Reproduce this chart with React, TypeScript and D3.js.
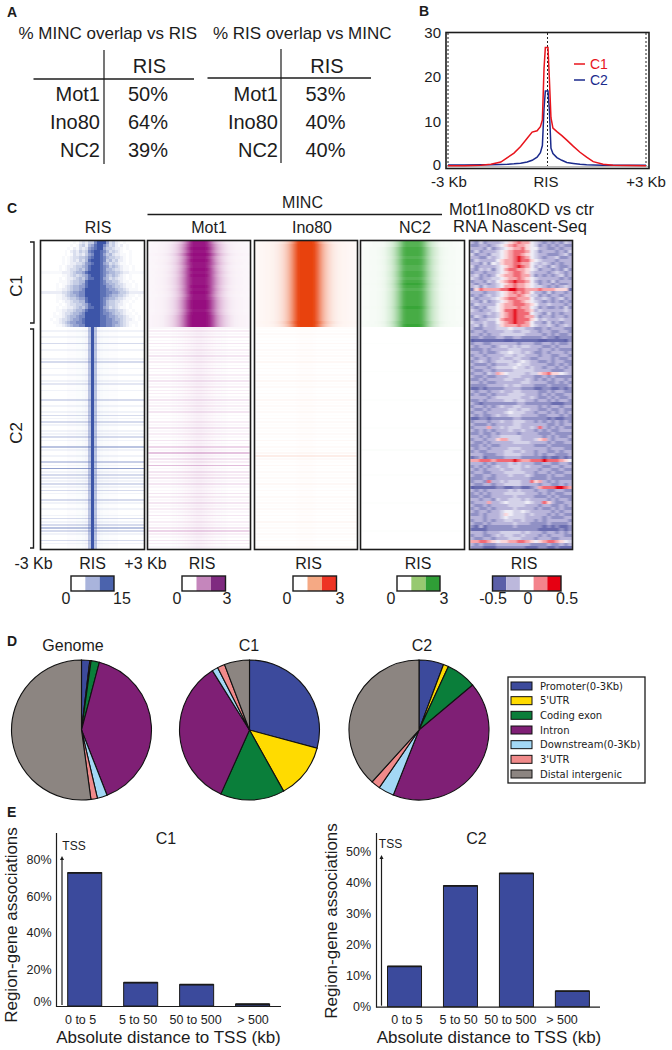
import React from 'react';
import * as d3 from 'd3';

const FONT = '"Liberation Sans", Arial, sans-serif';
const INK = '#1c1c1c';

// panel A
const overlapRows = ['Mot1', 'Ino80', 'NC2'];
const mincVsRis = ['50%', '64%', '39%'];
const risVsMinc = ['53%', '40%', '40%'];

// panel B
const profileKb = [-3, -2.5, -2, -1.7, -1.4, -1.2, -1, -0.8, -0.6, -0.45, -0.3, -0.2, -0.14, -0.09, -0.05, 0.03, 0.07, 0.12, 0.18, 0.3, 0.45, 0.6, 0.8, 1, 1.2, 1.4, 1.7, 2, 2.5, 3];
const profileC1 = [0.3, 0.3, 0.4, 0.6, 1.1, 2.1, 3.1, 4.6, 6.4, 7.8, 8.1, 9, 10.5, 22, 26.7, 26.7, 20, 11, 8.7, 7.9, 7, 6, 4.6, 3.3, 2.2, 1.2, 0.6, 0.4, 0.35, 0.3];
const profileC2 = [0.45, 0.45, 0.5, 0.5, 0.55, 0.6, 0.7, 0.85, 1.1, 1.5, 2.2, 3.2, 4.8, 13, 17, 17, 13, 4.2, 3, 2.1, 1.5, 1, 0.8, 0.6, 0.5, 0.45, 0.4, 0.4, 0.4, 0.4];
const profileTicks = [0, 10, 20, 30];

// panel C: RIS signal in C1, one digit per bin
const risC1 = [
  '00000000000102324479996342101000000', '00000000001013425689975342120100000', '00000000010213236789964432210100000',
  '00000000102324347899875343210010000', '00000000101323246799864532211010000', '00000001012334457899875443321010000',
  '00000001012324358999874534221010000', '00000001012233467899865343211010000', '00000010122344568999876454321101000',
  '00000010123345468999875543321101000', '11111112223455689999876554432211111', '00000001123434568999875454321010000',
  '00000010122345468899865343221010000', '00000011123445589999875544321101000', '00000101123445689999876554332110100',
  '00000101234556689999886654432110100', '00000112234556799999887665443211100', '22222223345667799999887766544322222',
  '00000112345567799999887655443211010', '00000112234456689999876554332110100', '00000101223445589999875443321101000',
  '00000010123344568999875443221010000', '00000101122345468899865343211010000', '00000112233455689999876554332101000',
  '00001012334556799999877654432110100', '00001112345567799999887665443211010', '00010123345667899999887765543221010',
  '00001123456677899999887766543211100', '00000112345667799999887765543210100',
];
// panel C: column profiles across the +/-3 Kb window, 35 bins
const risCoreC2 = [0, 0, 0, 0, 0, 0, 0, 0, 0, 0.01, 0.01, 0.01, 0.02, 0.02, 0.03, 0.05, 0.35, 1, 0.35, 0.05, 0.03, 0.02, 0.02, 0.01, 0.01, 0.01, 0, 0, 0, 0, 0, 0, 0, 0, 0];
const mincCoreC1 = [0.03, 0.03, 0.04, 0.04, 0.05, 0.05, 0.06, 0.07, 0.1, 0.14, 0.2, 0.3, 0.45, 0.65, 0.88, 1, 1, 1, 1, 1, 0.9, 0.7, 0.48, 0.32, 0.22, 0.15, 0.1, 0.07, 0.06, 0.05, 0.05, 0.04, 0.04, 0.03, 0.03];
const mincBump = [0, 0, 0, 0, 0, 0, 0, 0, 0.01, 0.01, 0.02, 0.02, 0.03, 0.04, 0.05, 0.06, 0.07, 0.07, 0.07, 0.06, 0.05, 0.04, 0.03, 0.02, 0.02, 0.01, 0.01, 0, 0, 0, 0, 0, 0, 0, 0];

// panel C: one digit per heatmap row, 0 = weak, 9 = strong
const risStreakC2 = '12121412112412121231211412124242122421621215292432424214212124246421421';
const mot1StrengthC1 = '88989898898988898988999899999';
const mot1SpreadC1 = '45556556556566656556666667777';
const mot1StreakC2 = '23232423242324232423332423242232423242628243924342422432423242324632432';
const ino80StrengthC1 = '99999999999999999999999999999';
const ino80SpreadC1 = '45555555555555555555555555565';
const ino80StreakC2 = '22322423232423232423232423232332323242324932423232423232323232423232323';
const nc2StrengthC1 = '66777677667767876777778777778';
const nc2SpreadC1 = '44555555555555555555555555565';
const nc2StreakC2 = '11111211111111211111111211111111211111131111111211111111211111111211111';

// panel C: KD vs control, 24 bins, 0 = most negative, 9 = most positive
const nascentC1 = [
  '324233345678775432323243', '223323456787765423232322', '333242345677865533223233', '242333456788875423332324',
  '423324456788765433222342', '332243456789875432334223', '243333567789886543332333', '332425467788775434323233',
  '423333456789875343243223', '324342457887765423323242', '233233456788764333234323', '342323567788774232323423',
  '432334456778765433333232', '233243567898875323242333', '323323456787765423323223', '342433457787765443232343',
  '168777788998877787776661', '333233456787875332423323', '232343456778764423233233', '423334567887775334323423',
  '332423456788765432323232', '243333567788876533433323', '323244567778775423223242', '432334568898876343333343',
  '333343467898885432423233', '243233467898877423323323', '323344578898886534333433', '433433567898875332423233',
  '342433467778775433432343',
];
const nascentC2 = [
  '322333444544433223233322', '233233334433443323322332', '332323344444433332323223', '223222332233222223221222',
  '011111110011111100111102', '233223333332333223323223', '323332344343443332232333', '222323333444333323323222',
  '332322344544343223233323', '233233334434433323322332', '323323343344332233323223', '234323444434543322323322',
  '322232333445443333223232', '233323444454434332332323', '322332333344444333322233', '233243765444434467866543',
  '322322333444333223232222', '223233334433343232323323', '332322333333443333223232', '222233334344333222322223',
  '112122223333222112211212', '323323343344333322323322', '232232333444433323232233', '333323444444334322323223',
  '223233334434433233232332', '321222222223322222211122', '233232343344333323233233', '322323333443443322322322',
  '233233334544433233232323', '323223433444333322333232', '112212222233222222121122', '233323343344433232323232',
  '322232333344333333223233', '233373343444334383232322', '323232333433433232322333', '223223233332333322232222',
  '332323344444333332323223', '233233677444333467323332', '322323333344443333232233', '223232233333333222322222',
  '323323333444333333233322', '232233334433433233223233', '333222334444333232332223', '123122223333222221211212',
  '778887888898778889888765', '333232333434333223322332', '232323433444343332233233', '323233343344333323322322',
  '233223334444433233232233', '322332333433343222323322', '222322333333332222322222', '233283343444338673232333',
  '322332334444333323322323', '011111221122112378889987', '323233333434333233223322', '232323334444433323232233',
  '223223333343333222323222', '332332433444343333232332', '233373345444454338632233', '322323333444433323322323',
  '232232333343333232232322', '323323345544543333323233', '223233346544434333232322', '333233345444433332322233',
  '233232334433433232333332', '322323333343332222322223', '213122222232222221212112', '111122222222222211111212',
  '333233344444343332332323', '233223434433433323233322', '322332333444333233322333', '778876566778876567887654',
  '323222333333332222322323', '222111222222211122112111',
];
const nascentDigitValues = [-0.5, -0.46, -0.36, -0.26, -0.16, -0.06, 0.08, 0.18, 0.3, 0.5];

const heatmapPanels = [
  { name: 'RIS', x0: 41, x1: 144, color: '#3c55a8', coreC1: null, coreC2: risCoreC2, strength: '', spread: '', streakC2: risStreakC2, streakMax: 0.07, bump: 1 },
  { name: 'Mot1', x0: 148, x1: 250, color: '#96107f', coreC1: mincCoreC1, coreC2: mincBump, strength: mot1StrengthC1, spread: mot1SpreadC1, streakC2: mot1StreakC2, streakMax: 0.035, bump: 0.8 },
  { name: 'Ino80', x0: 255, x1: 357, color: '#e8420c', coreC1: mincCoreC1, coreC2: mincBump, strength: ino80StrengthC1, spread: ino80SpreadC1, streakC2: ino80StreakC2, streakMax: 0.012, bump: 0.1 },
  { name: 'NC2', x0: 361, x1: 464, color: '#33a332', coreC1: mincCoreC1, coreC2: mincBump, strength: nc2StrengthC1, spread: nc2SpreadC1, streakC2: nc2StreakC2, streakMax: 0.01, bump: 0.02 },
];

const legendBars = [
  { center: 92.5, bx0: 71, bx1: 114, colors: ['#ffffff', '#a9b4dc', '#4b63ad'], labels: ['0', '15'], lx: [66, 122] },
  { center: 202, bx0: 182, bx1: 225.5, colors: ['#ffffff', '#c586bc', '#7f2a80'], labels: ['0', '3'], lx: [177, 227] },
  { center: 308.5, bx0: 293, bx1: 336.5, colors: ['#ffffff', '#f5a984', '#ee3424'], labels: ['0', '3'], lx: [287, 340] },
  { center: 418, bx0: 397, bx1: 440, colors: ['#ffffff', '#97c971', '#2f9e36'], labels: ['0', '3'], lx: [391, 444] },
  { center: 524, bx0: 492.5, bx1: 561, colors: ['#5b5fa8', '#bcb8dc', '#ffffff', '#f4838c', '#e60012'], labels: ['-0.5', '0', '0.5'], lx: [493, 528, 567] },
];

// panel D
const genomeClasses = ['Promoter(0-3Kb)', "5'UTR", 'Coding exon', 'Intron', 'Downstream(0-3Kb)', "3'UTR", 'Distal intergenic'];
const classColors = ['#3c4a9c', '#ffdb00', '#0a7e3a', '#7f1f75', '#a3d8f5', '#f08a8a', '#8c8581'];
const pieGenome = [1.9, 0.3, 1.9, 40, 2.3, 1.5, 52.2];
const pieC1 = [29.2, 12.7, 14.8, 34.4, 1.4, 1.7, 5.8];
const pieC2 = [5.7, 1.2, 7, 42.1, 3.6, 2.1, 38.3];

// panel E
const distanceBins = ['0 to 5', '5 to 50', '50 to 500', '> 500'];
const assocC1 = [73, 12.8, 11.7, 1];
const assocC2 = [13, 39, 43, 5];
const ticksC1 = [0, 20, 40, 60, 80];
const ticksC2 = [0, 10, 20, 30, 40, 50];

const digits = (s: string) => Array.from(s, Number);

function Label({ x, y, size = 16, anchor = 'middle', fill = INK, weight, children, rotate }: any) {
  return (
    <text
      x={rotate ? 0 : x}
      y={rotate ? 0 : y}
      transform={rotate ? `translate(${x},${y}) rotate(${rotate})` : undefined}
      fontFamily={FONT}
      fontSize={size}
      textAnchor={anchor}
      fontWeight={weight}
      fill={fill}
    >
      {children}
    </text>
  );
}

function OverlapTable({ title, titleX, vx, hy, hx0, hx1, values, risX, labelX, pctX, top, bottom }: any) {
  const rowY = d3.scalePoint<string>().domain(overlapRows).range([101, 157]);
  return (
    <g>
      <Label x={titleX} y={39} size={17} anchor="start">{title}</Label>
      <line x1={vx} x2={vx} y1={top} y2={bottom} stroke={INK} strokeWidth={1.2} />
      <line x1={hx0} x2={hx1} y1={hy} y2={hy} stroke={INK} strokeWidth={1.4} />
      <Label x={risX} y={73} size={20}>RIS</Label>
      {overlapRows.map((r, i) => (
        <g key={r}>
          <Label x={labelX} y={rowY(r)} size={20} anchor="end">{r}</Label>
          <Label x={pctX} y={rowY(r)} size={20}>{values[i]}</Label>
        </g>
      ))}
    </g>
  );
}

function ProfilePlot() {
  const x = d3.scaleLinear().domain([-3, 3]).range([448, 646]);
  const y = d3.scaleLinear().domain([0, 30]).range([167, 32.7]);
  const line = d3.line<number>().x((_, i) => x(profileKb[i])).y(d => y(d));
  return (
    <g>
      {[-3, 0, 3].map(k => (
        <line key={k} x1={x(k) + (k === 0 ? 0.5 : 0)} x2={x(k) + (k === 0 ? 0.5 : 0)} y1={33} y2={168} stroke="#222" strokeWidth={1} strokeDasharray="2 2" />
      ))}
      <line x1={446} x2={649} y1={166.5} y2={166.5} stroke="#bbb" strokeWidth={1} />
      <path d={line(profileC2) || ''} fill="none" stroke="#1b2a8c" strokeWidth={1.5} />
      <path d={line(profileC1) || ''} fill="none" stroke="#e8141c" strokeWidth={1.5} />
      <rect x={446} y={32.5} width={203} height={136} fill="none" stroke={INK} strokeWidth={1.6} />
      {profileTicks.map(t => (
        <Label key={t} x={441} y={y(t) + (t === 0 ? 3 : 5)} size={15} anchor="end">{t}</Label>
      ))}
      <Label x={449} y={187} size={15}>-3 Kb</Label>
      <Label x={546} y={187} size={15}>RIS</Label>
      <Label x={646} y={187} size={15}>+3 Kb</Label>
      <line x1={574} x2={585} y1={64} y2={64} stroke="#e8141c" strokeWidth={1.5} />
      <Label x={590} y={69} size={14} anchor="start" fill="#e8141c">C1</Label>
      <line x1={574} x2={585} y1={80} y2={80} stroke="#1b2a8c" strokeWidth={1.5} />
      <Label x={590} y={85} size={14} anchor="start" fill="#1b2a8c">C2</Label>
    </g>
  );
}

const TOP = 241;
const SPLIT = 327;
const BOTTOM = 549;

function Heatmap({ panel, idx }: any) {
  const cols = d3.range(35);
  const colX = d3.scaleBand<number>().domain(cols).range([panel.x0, panel.x1]);
  const color = d3.scaleLinear<string>().domain([0, 1]).range(['#ffffff', panel.color]).clamp(true);
  const streakC2 = digits(panel.streakC2);
  const rowCount = panel.coreC1 ? panel.strength.length : risC1.length;
  const rowsC1 = d3.scaleBand<number>().domain(d3.range(rowCount)).range([TOP, SPLIT]);
  const rowsC2 = d3.scaleBand<number>().domain(d3.range(streakC2.length)).range([SPLIT, BOTTOM]);
  const cellC1 = (r: number, c: number) => {
    if (!panel.coreC1) return Math.pow(Number(risC1[r][c]) / 9, 1.5);
    const s = Number(panel.strength[r]);
    const w = 0.72 + Number(panel.spread[r]) * 0.07;
    const k = Math.max(0, Math.min(34, 17 + (c - 17) / w));
    const lo = Math.floor(k);
    const hi = Math.min(34, lo + 1);
    return d3.interpolateNumber(panel.coreC1[lo], panel.coreC1[hi])(k - lo) * (0.45 + s * 0.065);
  };
  return (
    <g>
      <clipPath id={`clip-${idx}`}>
        <rect x={panel.x0} y={TOP} width={panel.x1 - panel.x0} height={BOTTOM - TOP} />
      </clipPath>
      <g clipPath={`url(#clip-${idx})`}>
        <g filter={panel.coreC1 ? 'url(#soft)' : 'url(#soft-fine)'} shapeRendering="crispEdges">
          {d3.range(rowCount).map(r =>
            cols.map(c => (
              <rect key={`a${r}-${c}`} x={colX(c)} y={rowsC1(r)} width={colX.bandwidth() + 0.5} height={rowsC1.bandwidth() + 0.5} fill={color(cellC1(r, c))} />
            ))
          )}
          {/* faint wash and the thin per-row streaks of C2 */}
          {streakC2.map((s, r) => (
            <rect key={`s${r}`} x={panel.x0} y={rowsC2(r)} width={panel.x1 - panel.x0} height={rowsC2.bandwidth() * 0.55} fill={color(Math.max(0, s - 1) * panel.streakMax)} />
          ))}
          {cols.map(c => panel.coreC2[c] * panel.bump > 0.004 && (
            <rect key={`b${c}`} x={colX(c)} y={SPLIT} width={colX.bandwidth()} height={BOTTOM - SPLIT} fill={panel.color} opacity={panel.coreC2[c] * panel.bump} />
          ))}
        </g>
      </g>
      <rect x={panel.x0 - 0.5} y={TOP - 0.5} width={panel.x1 - panel.x0 + 1} height={BOTTOM - TOP + 1} fill="none" stroke={INK} strokeWidth={1.6} />
    </g>
  );
}

function NascentMap() {
  const x0 = 470, x1 = 572;
  const cols = d3.range(24);
  const colX = d3.scaleBand<number>().domain(cols).range([x0, x1]);
  const color = d3.scaleLinear<string>().domain([-0.5, -0.25, 0, 0.25, 0.5]).range(['#5b5fa8', '#bcb8dc', '#ffffff', '#f4838c', '#e60012']);
  const rowsC1 = d3.scaleBand<number>().domain(d3.range(nascentC1.length)).range([TOP, SPLIT]);
  const rowsC2 = d3.scaleBand<number>().domain(d3.range(nascentC2.length)).range([SPLIT, BOTTOM]);
  const cells = (rows: string[], scale: any, tag: string) =>
    rows.map((row, r) =>
      digits(row).map((d, c) => (
        <rect key={`${tag}${r}-${c}`} x={colX(c)} y={scale(r)} width={colX.bandwidth() + 0.5} height={scale.bandwidth() + 0.5} fill={color(nascentDigitValues[d])} />
      ))
    );
  return (
    <g>
      <clipPath id="clip-nascent">
        <rect x={x0} y={TOP} width={x1 - x0} height={BOTTOM - TOP} />
      </clipPath>
      <g clipPath="url(#clip-nascent)">
        <g filter="url(#soft-nascent)" shapeRendering="crispEdges">
          {cells(nascentC1, rowsC1, 'a')}
          {cells(nascentC2, rowsC2, 'b')}
        </g>
      </g>
      <rect x={x0 - 0.5} y={TOP - 0.5} width={x1 - x0 + 1} height={BOTTOM - TOP + 1} fill="none" stroke={INK} strokeWidth={1.6} />
    </g>
  );
}

function ColorKey({ spec }: any) {
  const x = d3.scaleBand<string>().domain(spec.colors).range([spec.bx0, spec.bx1]);
  return (
    <g>
      <Label x={spec.center} y={569}>RIS</Label>
      {spec.colors.map((c: string) => (
        <rect key={c} x={x(c)} y={576} width={x.bandwidth()} height={15} fill={c} />
      ))}
      <rect x={spec.bx0} y={576} width={spec.bx1 - spec.bx0} height={15} fill="none" stroke={INK} strokeWidth={1.4} />
      {spec.labels.map((l: string, i: number) => (
        <Label key={l} x={spec.lx[i]} y={604}>{l}</Label>
      ))}
    </g>
  );
}

function Pie({ title, values, cx, titleX }: any) {
  const slices = d3.pie<number>().sort(null)(values);
  const arc = d3.arc<d3.PieArcDatum<number>>().innerRadius(0).outerRadius(70);
  return (
    <g>
      <Label x={titleX} y={651} size={16}>{title}</Label>
      <g transform={`translate(${cx},730)`}>
        {slices.map((s, i) => (
          <path key={i} d={arc(s) || ''} fill={classColors[i]} stroke="#111" strokeWidth={1.1} />
        ))}
      </g>
    </g>
  );
}

function PieKey() {
  const y = d3.scalePoint<string>().domain(genomeClasses).range([686, 774]);
  return (
    <g>
      <rect x={508} y={677} width={137} height={106} fill="#fff" stroke={INK} strokeWidth={1.3} />
      {genomeClasses.map((c, i) => (
        <g key={c}>
          <rect x={511} y={(y(c) as number) - 4} width={21} height={8} fill={classColors[i]} stroke="#111" strokeWidth={1} />
          <text x={540} y={(y(c) as number) + 3.5} fontFamily='"DejaVu Sans", sans-serif' fontSize={10} fill={INK}>{c}</text>
        </g>
      ))}
    </g>
  );
}

function AssocBars({ title, titleX, values, ticks, axisX, axisEnd, axisTop, y0, y1, top, tickRight, band, labels, xLabelX, yLabelX, yLabelY, arrowX, arrowTop, tssX, tssY, zeroShift }: any) {
  const x = d3.scaleBand<string>().domain(distanceBins).range(band).paddingInner(0.392).paddingOuter(0);
  const labelX = d3.scalePoint<string>().domain(distanceBins).range(labels);
  const y = d3.scaleLinear().domain([0, top]).range([y0, y1]);
  return (
    <g>
      <Label x={titleX} y={844} size={16}>{title}</Label>
      {values.map((v: number, i: number) => (
        <g key={i}>
          <rect x={x(distanceBins[i])} y={y(v)} width={x.bandwidth()} height={y0 - y(v)} fill="#3b4a9c" stroke="#1a1a1a" strokeWidth={1} />
          <line x1={x(distanceBins[i])} x2={(x(distanceBins[i]) as number) + x.bandwidth()} y1={y(v)} y2={y(v)} stroke="#1a1a1a" strokeWidth={1.8} />
        </g>
      ))}
      <line x1={axisX} x2={axisX} y1={axisTop} y2={y0 + 1} stroke={INK} strokeWidth={1.2} />
      <line x1={axisX} x2={axisEnd} y1={y0 + 0.5} y2={y0 + 0.5} stroke={INK} strokeWidth={1.2} />
      <line x1={arrowX} x2={arrowX} y1={y0 - 1} y2={arrowTop + 3} stroke={INK} strokeWidth={1.2} />
      <path d={d3.line()([[arrowX - 2, arrowTop + 4], [arrowX, arrowTop], [arrowX + 2, arrowTop + 4]]) + 'Z'} fill={INK} />
      <Label x={tssX} y={tssY} size={12}>TSS</Label>
      {ticks.map((t: number) => (
        <Label key={t} x={tickRight} y={y(t) + 4 + (t === 0 ? zeroShift : 0)} size={12.5} anchor="end">{t}%</Label>
      ))}
      {distanceBins.map(b => (
        <Label key={b} x={labelX(b)} y={1024} size={12.5}>{b}</Label>
      ))}
      <Label x={xLabelX} y={1043} size={17}>Absolute distance to TSS (kb)</Label>
      <Label x={yLabelX} y={yLabelY} size={17} rotate={-90}>Region-gene associations</Label>
    </g>
  );
}

export default function App() {
  return (
    <svg width={672} height={1050} style={{ position: 'absolute', left: 0, top: 0, background: '#fff' }}>
      <defs>
        <filter id="soft" x="-5%" y="-2%" width="110%" height="104%">
          <feGaussianBlur stdDeviation="1.1 0.5" />
        </filter>
        <filter id="soft-fine" x="-5%" y="-2%" width="110%" height="104%">
          <feGaussianBlur stdDeviation="0.6 0.4" />
        </filter>
        <filter id="soft-nascent" x="-5%" y="-2%" width="110%" height="104%">
          <feGaussianBlur stdDeviation="0.9 0.45" />
        </filter>
      </defs>

      <Label x={7} y={17} size={14} anchor="start" weight="bold">A</Label>
      <Label x={419} y={16} size={14} anchor="start" weight="bold">B</Label>
      <Label x={7} y={213} size={14} anchor="start" weight="bold">C</Label>
      <Label x={7} y={646} size={14} anchor="start" weight="bold">D</Label>
      <Label x={7} y={817} size={14} anchor="start" weight="bold">E</Label>

      <OverlapTable title="% MINC overlap vs RIS" titleX={18.5} vx={104} hy={79} hx0={33.5} hx1={194} values={mincVsRis} risX={149.5} labelX={100} pctX={148} top={50} bottom={164} />
      <OverlapTable title="% RIS overlap vs MINC" titleX={213} vx={281} hy={78} hx0={207.5} hx1={371} values={risVsMinc} risX={327} labelX={278} pctX={325.5} top={49} bottom={163} />

      <ProfilePlot />

      <Label x={302.5} y={208} size={16}>MINC</Label>
      <line x1={147.5} x2={442} y1={214.5} y2={214.5} stroke={INK} strokeWidth={1.5} />
      <Label x={449} y={215} size={16.5} anchor="start">Mot1Ino80KD vs ctr</Label>
      <Label x={453} y={232} size={16.5} anchor="start">RNA Nascent-Seq</Label>
      <Label x={98} y={233} size={16}>RIS</Label>
      <Label x={209} y={233} size={16}>Mot1</Label>
      <Label x={312} y={233} size={16}>Ino80</Label>
      <Label x={415} y={233} size={16}>NC2</Label>

      <path d="M30,242H34V323H30" fill="none" stroke={INK} strokeWidth={1.4} />
      <path d="M30,329H33.5V548H30" fill="none" stroke={INK} strokeWidth={1.4} />
      <Label x={22} y={286} size={17} rotate={-90}>C1</Label>
      <Label x={22} y={433} size={17} rotate={-90}>C2</Label>

      {heatmapPanels.map((p, i) => (
        <Heatmap key={p.name} panel={p} idx={i} />
      ))}
      <NascentMap />

      <Label x={33.5} y={569}>-3 Kb</Label>
      <Label x={145.5} y={569}>+3 Kb</Label>
      {legendBars.map((s, i) => (
        <ColorKey key={i} spec={s} />
      ))}

      <Pie title="Genome" values={pieGenome} cx={81.5} titleX={73} />
      <Pie title="C1" values={pieC1} cx={249.5} titleX={249} />
      <Pie title="C2" values={pieC2} cx={419} titleX={422} />
      <PieKey />

      <AssocBars title="C1" titleX={166} values={assocC1} ticks={ticksC1} axisX={56.5} axisEnd={281} axisTop={833} y0={1006} y1={860} top={80} tickRight={51.5} band={[67.7, 269.6]} labels={[80.6, 253]} xLabelX={168.5} yLabelX={17} yLabelY={925} arrowX={62} arrowTop={856} tssX={74} tssY={850} zeroShift={-4} />
      <AssocBars title="C2" titleX={476.5} values={assocC2} ticks={ticksC2} axisX={376.5} axisEnd={600} axisTop={833} y0={1006.7} y1={851.7} top={50} tickRight={371} band={[387.5, 589.4]} labels={[407, 562]} xLabelX={489} yLabelX={337} yLabelY={921} arrowX={381.5} arrowTop={855} tssX={390.5} tssY={847.5} zeroShift={0} />
    </svg>
  );
}
